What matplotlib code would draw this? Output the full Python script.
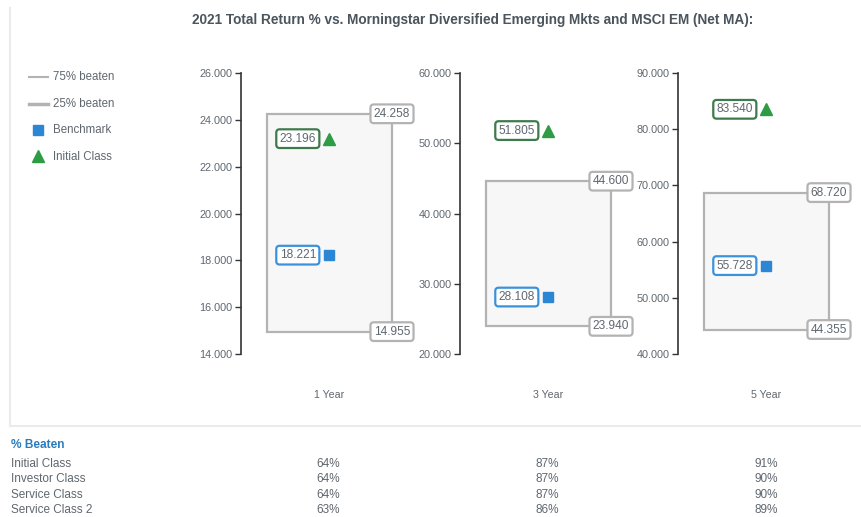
import matplotlib.pyplot as plt
from matplotlib.patches import Rectangle
from matplotlib.lines import Line2D

plt.rcParams['font.family'] = ['Liberation Sans', 'DejaVu Sans']

# data
periods = ['1 Year', '3 Year', '5 Year']
top_25 = [24.258, 44.600, 68.720]      # 25% beaten (upper edge)
bottom_75 = [14.955, 23.940, 44.355]   # 75% beaten (lower edge)
benchmark = [18.221, 28.108, 55.728]
initial_class = [23.196, 51.805, 83.540]
y_ranges = [(14, 26, 2), (20, 60, 10), (40, 90, 10)]

beaten_rows = ['Initial Class', 'Investor Class', 'Service Class', 'Service Class 2']
beaten_vals = [
    ['64%', '87%', '91%'],
    ['64%', '87%', '90%'],
    ['64%', '87%', '90%'],
    ['63%', '86%', '89%'],
]

W, H = 862, 517
TXT = '#5f676f'
GREY = '#b3b3b3'
GREEN_EDGE = '#3d7a4c'
GREEN = '#2e9b45'
BLUE_EDGE = '#3b92dc'
BLUE = '#2b87d3'

fig = plt.figure(figsize=(W / 100, H / 100), dpi=100)


def px_axes(x, y, w, h):
    return fig.add_axes([x / W, 1 - (y + h) / H, w / W, h / H])


def fx(x):
    return x / W


def fy(y):
    return 1 - y / H


# outer frame
fig.add_artist(Line2D([fx(10), fx(10)], [fy(8), fy(426)], color='#ebebeb', lw=1.5))
fig.add_artist(Line2D([fx(10), fx(862)], [fy(426), fy(426)], color='#ebebeb', lw=1.5))

fig.text(fx(473), fy(20), '2021 Total Return % vs. Morningstar Diversified Emerging Mkts and MSCI EM (Net MA):',
         ha='center', va='center', fontsize=9.8, fontweight='bold', color='#4b555e')

# legend
fig.add_artist(Line2D([fx(29), fx(48)], [fy(77), fy(77)], color=GREY, lw=1.5))
fig.add_artist(Line2D([fx(29), fx(48)], [fy(104), fy(104)], color=GREY, lw=2.5))
fig.add_artist(Line2D([fx(38)], [fy(130)], marker='s', color=BLUE, ms=7, lw=0))
fig.add_artist(Line2D([fx(38)], [fy(156)], marker='^', color=GREEN, ms=8, lw=0))
for yy, t in zip([77, 104, 130, 157], ['75% beaten', '25% beaten', 'Benchmark', 'Initial Class']):
    fig.text(fx(53), fy(yy), t, ha='left', va='center', fontsize=8.3, color=TXT)

spine_x = [241, 460, 678]
BX0, BX1, MX = 26, 151, 88

for i, x0 in enumerate(spine_x):
    ax = px_axes(x0, 73, 190, 281)
    lo, hi, step = y_ranges[i]
    ax.set_xlim(0, 190)
    ax.set_ylim(lo, hi)
    ax.set_facecolor('none')
    for s in ['top', 'right', 'bottom']:
        ax.spines[s].set_visible(False)
    ax.spines['left'].set_color('#333333')
    ax.spines['left'].set_linewidth(1.2)
    ticks = list(range(lo, hi + 1, step))
    ax.set_yticks(ticks)
    ax.set_yticklabels([f'{t:.3f}' for t in ticks])
    ax.tick_params(axis='y', length=4, width=1, color='#333333', labelsize=7.8, labelcolor=TXT, pad=2)
    ax.set_xticks([MX])
    ax.set_xticklabels([periods[i]])
    ax.tick_params(axis='x', length=0, labelsize=7.7, labelcolor=TXT, pad=26)

    ax.add_patch(Rectangle((BX0, bottom_75[i]), BX1 - BX0, top_25[i] - bottom_75[i],
                           facecolor='#f7f7f7', edgecolor=GREY, lw=1.6, zorder=1))

    lab = dict(ha='center', va='center', fontsize=8.6, color=TXT, zorder=5)
    for v in [top_25[i], bottom_75[i]]:
        ax.text(BX1, v, f'{v:.3f}',
                bbox=dict(boxstyle='round,pad=0.28', fc='white', ec=GREY, lw=1.6), **lab)

    ax.plot([MX], [benchmark[i]], marker='s', color=BLUE, ms=7, lw=0, zorder=4)
    ax.plot([MX], [initial_class[i]], marker='^', color=GREEN, ms=8, lw=0, zorder=4)
    lab['ha'] = 'right'
    ax.text(75, benchmark[i], f'{benchmark[i]:.3f}',
            bbox=dict(boxstyle='round,pad=0.28', fc='white', ec=BLUE_EDGE, lw=1.6), **lab)
    ax.text(75, initial_class[i], f'{initial_class[i]:.3f}',
            bbox=dict(boxstyle='round,pad=0.28', fc='white', ec=GREEN_EDGE, lw=1.6), **lab)

# % Beaten table
fig.text(fx(11), fy(445), '% Beaten', ha='left', va='center', fontsize=8.6,
         fontweight='bold', color='#2b7bbd')
col_x = [328, 547, 766]
for r, (name, vals) in enumerate(zip(beaten_rows, beaten_vals)):
    yy = 464 + r * 15.3
    fig.text(fx(11), fy(yy), name, ha='left', va='center', fontsize=8.5, color=TXT)
    for cx, v in zip(col_x, vals):
        fig.text(fx(cx), fy(yy), v, ha='center', va='center', fontsize=8.5, color=TXT)

fig.savefig('out.png', dpi=100)
